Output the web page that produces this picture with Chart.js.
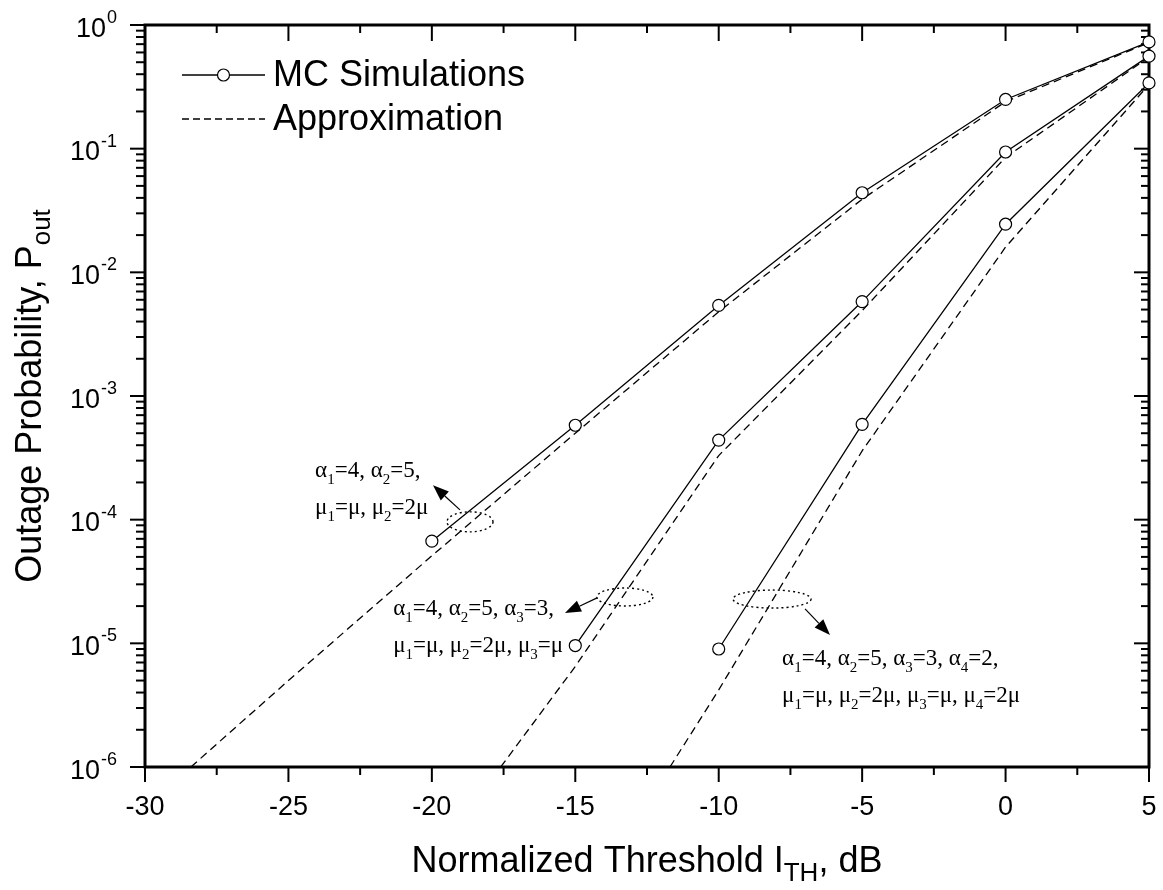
<!DOCTYPE html>
<html><head><meta charset="utf-8">
<script src="https://cdn.jsdelivr.net/npm/chart.js@4.4.0/dist/chart.umd.min.js"></script>
<style>html,body{margin:0;padding:0;background:#fff}#wrap{width:1163px;height:890px;position:relative}</style>
</head><body><div id="wrap"><canvas id="c"></canvas></div>
<script>
// ---- data ----
const xMC1 = [-20, -15, -10, -5, 0, 5];
const yMC1 = [6.7e-5, 5.8e-4, 5.4e-3, 0.044, 0.25, 0.73];
const xMC2 = [-15, -10, -5, 0, 5];
const yMC2 = [9.6e-6, 4.4e-4, 5.8e-3, 0.094, 0.56];
const xMC3 = [-10, -5, 0, 5];
const yMC3 = [9.0e-6, 5.9e-4, 0.0245, 0.34];
const xAp1 = [-28.4, -25, -20, -15, -10, -5, 0, 5];
const yAp1 = [1e-6, 5e-6, 5.1e-5, 5e-4, 4.8e-3, 0.039, 0.24, 0.72];
const xAp2 = [-17.6, -15, -10, -5, 0, 5];
const yAp2 = [1e-6, 6.5e-6, 3.3e-4, 4.9e-3, 0.085, 0.55];
const xAp3 = [-11.7, -10, -5, 0, 5];
const yAp3 = [1e-6, 4.2e-6, 3.6e-4, 0.016, 0.33];
const xTicks = [-30, -25, -20, -15, -10, -5, 0, 5];
const xTickLabels = ['-30', '-25', '-20', '-15', '-10', '-5', '0', '5'];
const yTicks = [1, 0.1, 0.01, 1e-3, 1e-4, 1e-5, 1e-6];
const yTickExp = ['0', '-1', '-2', '-3', '-4', '-5', '-6'];
const legendLabels = ['MC Simulations', 'Approximation'];
const xTitle = 'Normalized Threshold I_{TH}, dB';
const yTitle = 'Outage Probability, P_{out}';
const noteLines = [
  ['\u03b1_1=4, \u03b1_2=5,', '\u03bc_1=\u03bc, \u03bc_2=2\u03bc'],
  ['\u03b1_1=4, \u03b1_2=5, \u03b1_3=3,', '\u03bc_1=\u03bc, \u03bc_2=2\u03bc, \u03bc_3=\u03bc'],
  ['\u03b1_1=4, \u03b1_2=5, \u03b1_3=3, \u03b1_4=2,', '\u03bc_1=\u03bc, \u03bc_2=2\u03bc, \u03bc_3=\u03bc, \u03bc_4=2\u03bc']
];
// annotation anchors (data coordinates)
const notes = [
  {ell:[-18.67, 9.6e-5], rx:23, ry:10, tail:[-19.02, 1.2e-4], tip:[-19.96, 1.9e-4], text:[-24.07, 2.21e-4]},
  {ell:[-13.27, 2.37e-5], rx:28, ry:9, tail:[-14.24, 2.33e-5], tip:[-15.36, 1.76e-5], text:[-21.35, 1.7e-5]},
  {ell:[-8.14, 2.28e-5], rx:39, ry:9, tail:[-6.99, 1.9e-5], tip:[-6.12, 1.17e-5], text:[-7.79, 6.7e-6]}
];

const SANS = "'Liberation Sans', Arial, Helvetica, sans-serif";
const SERIF = "'Liberation Serif', 'Times New Roman', serif";

function pts(xs, ys) { return xs.map((x, i) => ({x: x, y: ys[i]})); }
function mc(xs, ys) {
  return {data: pts(xs, ys), borderColor: '#000', borderWidth: 1.3, pointRadius: 6, pointHoverRadius: 6,
    pointBackgroundColor: '#fff', pointBorderColor: '#000', pointBorderWidth: 1.2, tension: 0, clip: false, order: 0};
}
function ap(xs, ys) {
  return {data: pts(xs, ys), borderColor: '#000', borderWidth: 1.3, borderDash: [8, 5], pointRadius: 0,
    tension: 0, order: 1};
}

function parseRich(str) {
  const parts = []; let i = 0;
  while (i < str.length) {
    if (str[i] === '_') {
      if (str[i + 1] === '{') { const j = str.indexOf('}', i); parts.push({t: str.slice(i + 2, j), s: true}); i = j + 1; }
      else { parts.push({t: str[i + 1], s: true}); i += 2; }
    } else {
      let j = i; while (j < str.length && str[j] !== '_') j++;
      parts.push({t: str.slice(i, j), s: false}); i = j;
    }
  }
  return parts;
}
function richWidth(ctx, parts, font, subFont) {
  let w = 0;
  parts.forEach(p => { ctx.font = p.s ? subFont : font; w += ctx.measureText(p.t).width; });
  return w;
}
function drawRich(ctx, str, x, y, font, subFont, subDy, align) {
  const parts = parseRich(str);
  let cx = x;
  if (align === 'center') cx = x - richWidth(ctx, parts, font, subFont) / 2;
  ctx.textAlign = 'left'; ctx.textBaseline = 'alphabetic';
  parts.forEach(p => {
    ctx.font = p.s ? subFont : font;
    ctx.fillText(p.t, cx, y + (p.s ? subDy : 0));
    cx += ctx.measureText(p.t).width;
  });
}

const framePlugin = {
  id: 'frame',
  beforeDatasetsDraw(chart) {
    const ctx = chart.ctx, a = chart.chartArea, xs = chart.scales.x, ys = chart.scales.y;
    ctx.save();
    ctx.strokeStyle = '#000'; ctx.fillStyle = '#000';
    // ticks
    ctx.lineWidth = 2;
    const line = (x1, y1, x2, y2) => { ctx.beginPath(); ctx.moveTo(x1, y1); ctx.lineTo(x2, y2); ctx.stroke(); };
    // x ticks: majors from xTicks, minors half way
    xTicks.forEach((v, i) => {
      const px = xs.getPixelForValue(v);
      line(px, a.bottom, px, a.bottom + 15);
      line(px, a.top, px, a.top + 16);
      if (i < xTicks.length - 1) {
        const pm = xs.getPixelForValue((v + xTicks[i + 1]) / 2);
        line(pm, a.bottom, pm, a.bottom + 8);
        line(pm, a.top, pm, a.top + 8);
      }
    });
    // y ticks
    yTicks.forEach((v, i) => {
      const py = ys.getPixelForValue(v);
      line(a.left - 15, py, a.left, py);
      line(a.right - 15, py, a.right, py);
      if (v > 1e-6) {
        for (let k = 2; k <= 9; k++) {
          const pm = ys.getPixelForValue(v / 10 * k);
          line(a.left - 9, pm, a.left, pm);
          line(a.right - 8, pm, a.right, pm);
        }
      }
    });
    // frame
    ctx.lineWidth = 3;
    ctx.strokeRect(a.left, a.top, a.right - a.left, a.bottom - a.top);
    ctx.restore();
  },
  afterDraw(chart) {
    const ctx = chart.ctx, a = chart.chartArea, xs = chart.scales.x, ys = chart.scales.y;
    ctx.save();
    ctx.fillStyle = '#000'; ctx.strokeStyle = '#000';
    // x tick labels
    ctx.font = '27px ' + SANS; ctx.textAlign = 'center'; ctx.textBaseline = 'alphabetic';
    xTicks.forEach((v, i) => ctx.fillText(xTickLabels[i], xs.getPixelForValue(v), a.bottom + 48));
    // y tick labels 10^n
    yTicks.forEach((v, i) => {
      const py = ys.getPixelForValue(v);
      const rightX = a.left - 28;
      ctx.font = '18px ' + SANS; ctx.textAlign = 'right';
      ctx.fillText(yTickExp[i], rightX, py - 2);
      const ew = ctx.measureText(yTickExp[i]).width;
      ctx.font = '27px ' + SANS;
      ctx.fillText('10', rightX - ew - 1, py + 11.5);
    });
    // axis titles
    drawRich(ctx, xTitle, (a.left + a.right) / 2, 872, '36px ' + SANS, '26px ' + SANS, 9, 'center');
    ctx.save();
    ctx.translate(41, (a.top + a.bottom) / 2);
    ctx.rotate(-Math.PI / 2);
    drawRich(ctx, yTitle, 0, 0, '36px ' + SANS, '26px ' + SANS, 9, 'center');
    ctx.restore();
    // legend
    const lx1 = a.left + 37, lx2 = a.left + 120, ly1 = a.top + 50, ly2 = a.top + 94;
    ctx.lineWidth = 1.3;
    ctx.beginPath(); ctx.moveTo(lx1, ly1); ctx.lineTo(lx2, ly1); ctx.stroke();
    ctx.beginPath(); ctx.arc((lx1 + lx2) / 2, ly1, 6, 0, Math.PI * 2); ctx.fillStyle = '#fff'; ctx.fill();
    ctx.lineWidth = 1.2; ctx.stroke();
    ctx.fillStyle = '#000';
    ctx.setLineDash([7, 4]); ctx.lineWidth = 1.3;
    ctx.beginPath(); ctx.moveTo(lx1, ly2); ctx.lineTo(lx2, ly2); ctx.stroke();
    ctx.setLineDash([]);
    ctx.font = '36px ' + SANS; ctx.textAlign = 'left'; ctx.textBaseline = 'middle';
    ctx.fillText(legendLabels[0], lx2 + 8, ly1 + 1);
    ctx.fillText(legendLabels[1], lx2 + 8, ly2 + 1);
    // annotations
    notes.forEach((n, i) => {
      const ex = xs.getPixelForValue(n.ell[0]), ey = ys.getPixelForValue(n.ell[1]);
      ctx.setLineDash([2, 3]); ctx.lineWidth = 1.4;
      ctx.beginPath(); ctx.ellipse(ex, ey, n.rx, n.ry, 0, 0, Math.PI * 2); ctx.stroke();
      ctx.setLineDash([]);
      const tx = xs.getPixelForValue(n.tail[0]), ty = ys.getPixelForValue(n.tail[1]);
      const hx = xs.getPixelForValue(n.tip[0]), hy = ys.getPixelForValue(n.tip[1]);
      const ang = Math.atan2(hy - ty, hx - tx);
      const hl = 16, hw = 6;
      const bx = hx - hl * Math.cos(ang), by = hy - hl * Math.sin(ang);
      ctx.lineWidth = 1.2;
      ctx.beginPath(); ctx.moveTo(tx, ty); ctx.lineTo(bx, by); ctx.stroke();
      ctx.beginPath(); ctx.moveTo(hx, hy);
      ctx.lineTo(bx + hw * Math.sin(ang), by - hw * Math.cos(ang));
      ctx.lineTo(bx - hw * Math.sin(ang), by + hw * Math.cos(ang));
      ctx.closePath(); ctx.fill();
      const px = xs.getPixelForValue(n.text[0]), py = ys.getPixelForValue(n.text[1]);
      noteLines[i].forEach((s, k) => drawRich(ctx, s, px, py + k * 37, '23px ' + SERIF, '15px ' + SERIF, 7, 'left'));
    });
    ctx.restore();
  }
};

new Chart(document.getElementById('c'), {
  type: 'line',
  data: {datasets: [mc(xMC1, yMC1), mc(xMC2, yMC2), mc(xMC3, yMC3), ap(xAp1, yAp1), ap(xAp2, yAp2), ap(xAp3, yAp3)]},
  options: {
    animation: false, responsive: true, maintainAspectRatio: false,
    layout: {padding: {left: 145, right: 14, top: 25, bottom: 123}},
    scales: {
      x: {type: 'linear', min: -30, max: 5, display: false},
      y: {type: 'logarithmic', min: 1e-6, max: 1, display: false}
    },
    plugins: {legend: {display: false}, tooltip: {enabled: false}}
  },
  plugins: [framePlugin]
});
</script></body></html>
